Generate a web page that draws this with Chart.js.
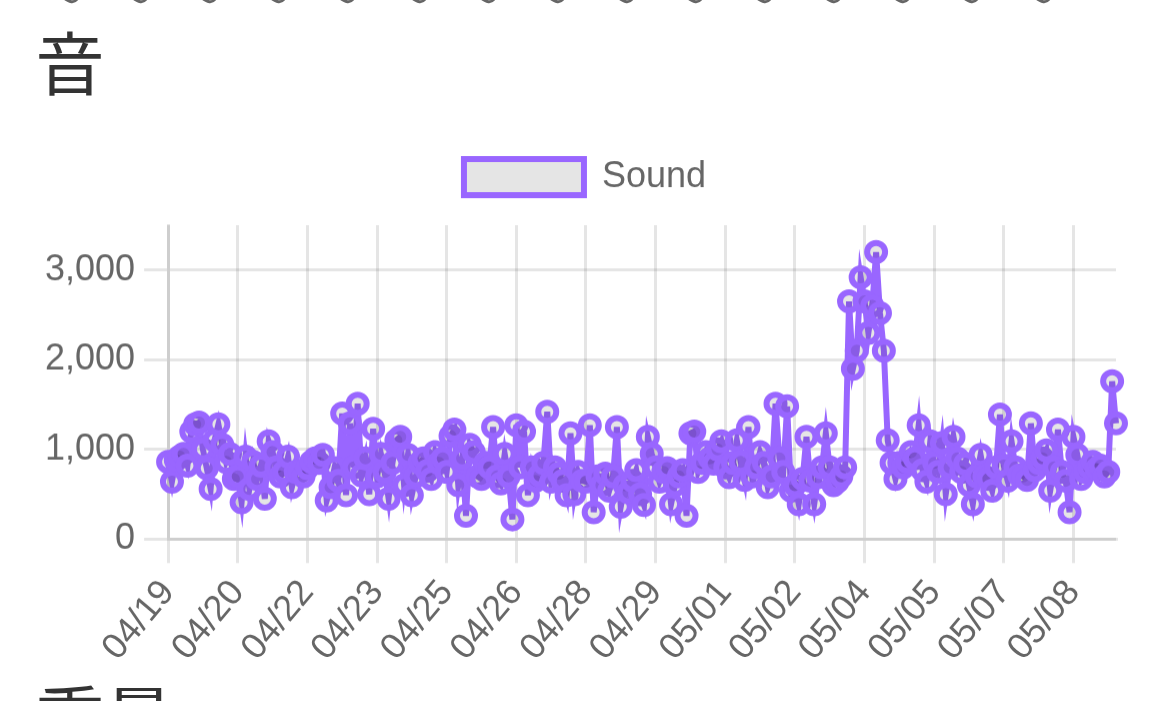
<!DOCTYPE html>
<html lang="ja">
<head>
<meta charset="utf-8">
<title>音</title>
<script src="https://cdn.jsdelivr.net/npm/chart.js@4.4.1/dist/chart.umd.min.js"></script>
<style>
    html, body {
        margin: 0;
        padding: 0;
        overflow: hidden;
        background: #fff;
    }
    /* page laid out at phone size (390px wide) and scaled x3 */
    #page {
        position: absolute;
        left: 0;
        top: 0;
        width: 390px;
        height: 234px;
        transform: scale(3);
        transform-origin: 0 0;
        overflow: hidden;
    }
    h2 {
        position: absolute;
        left: 11.8px;
        margin: 0;
        font: 400 23px/1 'Noto Sans CJK JP', sans-serif;
        color: #333;
    }
    #soundTitle { top: 8.5px; }
    #nextTitle { top: 226.8px; }
    .chart-box {
        position: absolute;
        left: 12px;
        top: 43px;
        width: 366px;
        height: 182.667px;
    }
    .prev-tick {
        position: absolute;
        width: 40px;
        text-align: right;
        white-space: nowrap;
        font: 12px/14px 'Helvetica Neue', Helvetica, Arial, 'Liberation Sans', sans-serif;
        color: #666;
        transform-origin: 100% 50%;
        transform: rotate(-50deg);
    }
</style>
</head>
<body>
<div id="page">
    <div id="prevAxis"></div>
    <h2 id="soundTitle">音</h2>
    <div class="chart-box"><canvas id="soundChart"></canvas></div>
    <h2 id="nextTitle">重量</h2>
</div>

<script>
// Sound readings, one row per day (every 2 hours)
const days = ['04/19', '04/20', '04/21', '04/22', '04/23', '04/24', '04/25', '04/26', '04/27', '04/28', '04/29',
              '04/30', '05/01', '05/02', '05/03', '05/04', '05/05', '05/06', '05/07', '05/08', '05/09'];
const pointsPerDay = 12;
const labelStep = 18;

const soundValues = [
    860, 640, 880, 920, 950, 820, 1200, 1280, 1300, 1000, 790, 560,
    1100, 1280, 1050, 860, 950, 670, 700, 410, 920, 560, 860, 670,
    820, 450, 1090, 970, 800, 700, 750, 920, 580, 750, 750, 700,
    790, 860, 900, 850, 940, 430, 580, 790, 650, 1400, 490, 1290,
    800, 1510, 710, 900, 500, 1230, 700, 950, 750, 450, 850, 1100,
    1140, 600, 940, 490, 700, 850, 900, 760, 670, 970, 850, 900,
    750, 1150, 1220, 600, 900, 260, 1050, 970, 700, 670, 850, 800,
    1250, 700, 620, 950, 700, 220, 1270, 800, 1200, 490, 800, 650,
    710, 850, 1420, 640, 800, 730, 650, 490, 1180, 500, 750, 650,
    640, 1270, 300, 700, 600, 730, 540, 700, 1250, 360, 600, 520,
    650, 770, 500, 380, 1140, 950, 800, 640, 750, 790, 390, 600,
    700, 770, 260, 1180, 1200, 750, 850, 970, 900, 840, 1000, 1090,
    800, 690, 850, 1100, 860, 660, 1250, 700, 800, 970, 850, 580,
    700, 1510, 900, 750, 1480, 540, 600, 390, 670, 1140, 650, 390,
    690, 800, 1180, 800, 600, 640, 700, 800, 2650, 1900, 2100, 2920,
    2650, 2300, 2600, 3200, 2520, 2100, 1100, 850, 670, 850, 800, 860,
    970, 900, 1270, 770, 640, 1090, 850, 750, 1070, 500, 800, 1140,
    900, 750, 840, 600, 390, 700, 940, 700, 670, 540, 800, 1390,
    820, 650, 1090, 800, 710, 700, 660, 1290, 770, 850, 900, 990,
    540, 800, 1220, 750, 650, 300, 1140, 940, 670, 750, 800, 860,
    780, 820, 700, 750, 1760, 1290
];

const yTicks = [0, 1000, 2000, 3000];
const yMax = 3500;

// tail of the previous chart's date labels, cut off at the top of the page
const prevTickLabels = ['04/19', '04/20', '04/22', '04/23', '04/25', '04/26', '04/28', '04/29',
                        '05/01', '05/02', '05/04', '05/05', '05/07', '05/08', '05/10'];

const fontFamily = "'Helvetica Neue', Helvetica, Arial, 'Liberation Sans', sans-serif";

document.addEventListener('DOMContentLoaded', function() {
    drawPrevAxisTail();
    initSoundChart();
});

function drawPrevAxisTail() {
    const holder = document.getElementById('prevAxis');
    prevTickLabels.forEach((text, i) => {
        const span = document.createElement('span');
        span.className = 'prev-tick';
        span.textContent = text;
        span.style.left = (39.9 + i * 23.12 - 40) + 'px';
        span.style.top = (-22.9 - 7) + 'px';
        holder.appendChild(span);
    });
}

function buildLabels() {
    const labels = [];
    days.forEach(day => {
        for (let i = 0; i < pointsPerDay; i++) labels.push(day);
    });
    return labels.slice(0, soundValues.length);
}

function initSoundChart() {
    const ctx = document.getElementById('soundChart').getContext('2d');

    Chart.defaults.font.family = fontFamily;

    const config = {
        type: 'line',
        data: {
            labels: buildLabels(),
            datasets: [{
                label: 'Sound',
                data: soundValues,
                borderColor: 'rgb(153, 102, 255)',
                backgroundColor: 'rgba(0, 0, 0, 0.1)',
                borderWidth: 2,
                pointRadius: 3,
                pointBorderWidth: 2,
                tension: 0
            }]
        },
        options: {
            devicePixelRatio: 3,
            animation: false,
            locale: 'en-US',
            responsive: true,
            maintainAspectRatio: false,
            plugins: {
                legend: {
                    display: true
                },
                tooltip: {
                    enabled: false
                }
            },
            scales: {
                x: {
                    // one date label every 18 points (1.5 days)
                    afterBuildTicks: function(scale) {
                        scale.ticks = scale.ticks.filter(t => t.value % labelStep === 0);
                    },
                    ticks: {
                        autoSkip: false,
                        minRotation: 50,
                        maxRotation: 50
                    }
                },
                y: {
                    min: yTicks[0],
                    max: yMax,
                    afterBuildTicks: function(scale) {
                        scale.ticks = yTicks.map(v => ({ value: v }));
                    }
                }
            }
        }
    };

    new Chart(ctx, config);
}
</script>
</body>
</html>
